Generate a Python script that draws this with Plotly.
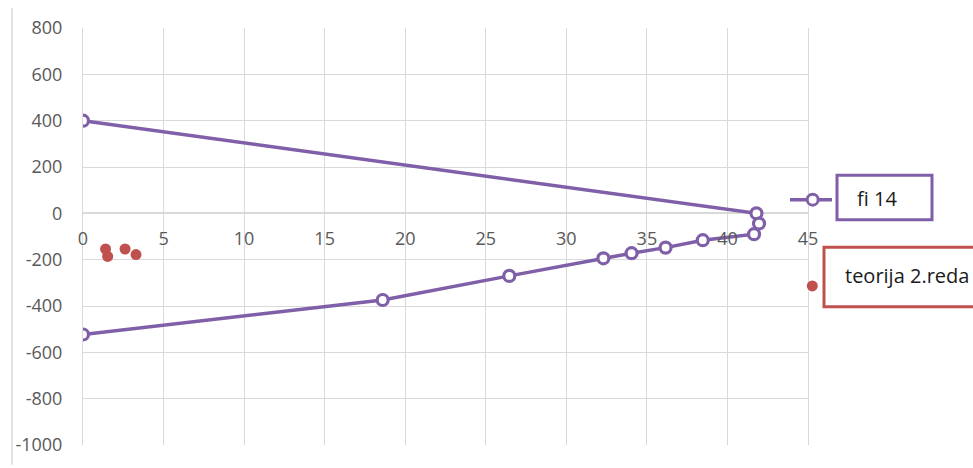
import plotly.graph_objects as go

# Data
fi14_x = [0, 41.8, 41.96, 41.65, 38.47, 36.16, 34.05, 32.3, 26.46, 18.6, 0]
fi14_y = [400, 0, -44, -90, -116, -148, -172, -194, -270, -374, -523]

teorija_x = [1.40, 1.53, 2.61, 3.29]
teorija_y = [-154, -186, -154, -178]

x_ticks = [0, 5, 10, 15, 20, 25, 30, 35, 40, 45]
y_ticks = [-1000, -800, -600, -400, -200, 0, 200, 400, 600, 800]

PURPLE = "#7f5fa7"
RED = "#c0504d"
GRID = "#d9d9d9"
TICKFONT = dict(family="Open Sans", size=18, color="#595959")

fig = go.Figure()
fig.add_trace(go.Scatter(
    x=fi14_x, y=fi14_y, mode="lines+markers", name="fi 14",
    line=dict(color=PURPLE, width=3.5),
    marker=dict(symbol="circle", size=11, color="white", line=dict(color=PURPLE, width=3.2)),
    showlegend=False,
))
fig.add_trace(go.Scatter(
    x=teorija_x, y=teorija_y, mode="markers", name="teorija 2.reda",
    marker=dict(symbol="circle", size=11, color=RED),
    showlegend=False,
))

L, R, T, B = 83, 808, 28, 450
W, H = R - L, B - T


def px(v):
    return (v - L) / W


def py(v):
    return (B - v) / H


shapes = [
    # left border line of the chart area
    dict(type="line", xref="paper", yref="paper", x0=px(12), x1=px(12), y0=py(8), y1=py(470),
         line=dict(color=GRID, width=1.5)),
    # legend 1 sample
    dict(type="line", xref="paper", yref="paper", x0=px(790), x1=px(832), y0=py(201.7), y1=py(201.7),
         line=dict(color=PURPLE, width=3.5)),
    dict(type="circle", xref="paper", yref="paper", xsizemode="pixel", ysizemode="pixel",
         xanchor=px(812.7), yanchor=py(201.7), x0=-5.5, x1=5.5, y0=-5.5, y1=5.5,
         fillcolor="white", line=dict(color=PURPLE, width=3)),
    dict(type="rect", xref="paper", yref="paper", x0=px(837), x1=px(932), y0=py(222), y1=py(177),
         line=dict(color=PURPLE, width=3), fillcolor="white"),
    # legend 2 sample
    dict(type="circle", xref="paper", yref="paper", xsizemode="pixel", ysizemode="pixel",
         xanchor=px(812.3), yanchor=py(289), x0=-5.5, x1=5.5, y0=-5.5, y1=5.5,
         fillcolor=RED, line=dict(color=RED, width=0)),
    dict(type="rect", xref="paper", yref="paper", x0=px(824), x1=px(1000), y0=py(310), y1=py(250),
         line=dict(color=RED, width=3), fillcolor="white"),
]

annotations = [
    dict(text="fi 14", xref="paper", yref="paper", x=px(855), y=py(201), xanchor="left", yanchor="middle",
         showarrow=False, font=dict(family="Open Sans", size=20, color="#1a1a1a")),
    dict(text="teorija 2.reda", xref="paper", yref="paper", x=px(843), y=py(278), xanchor="left",
         yanchor="middle", showarrow=False, font=dict(family="Open Sans", size=20, color="#1a1a1a")),
]

fig.update_layout(
    width=973, height=468,
    margin=dict(l=L, r=973 - R, t=T, b=468 - B),
    paper_bgcolor="white", plot_bgcolor="white",
    shapes=shapes, annotations=annotations,
    xaxis=dict(range=[0, 45], tickvals=x_ticks, ticktext=[str(v) for v in x_ticks],
               showgrid=True, gridcolor=GRID, gridwidth=1, zeroline=False,
               anchor="free", position=py(215.6), showline=False,
               ticks="outside", ticklen=9, tickcolor="rgba(0,0,0,0)",
               tickfont=TICKFONT),
    yaxis=dict(range=[-1000, 800], tickvals=y_ticks, ticktext=[str(v) for v in y_ticks],
               showgrid=True, gridcolor=GRID, gridwidth=1, zeroline=True, zerolinecolor=GRID,
               zerolinewidth=1.5, showline=True, linecolor=GRID, mirror=True,
               ticks="outside", ticklen=16, tickcolor="rgba(0,0,0,0)",
               tickfont=TICKFONT),
    showlegend=False,
)

fig.write_html("out.html", config={"displayModeBar": False},
               post_script="document.body.style.margin='0';document.body.style.overflow='hidden';")
